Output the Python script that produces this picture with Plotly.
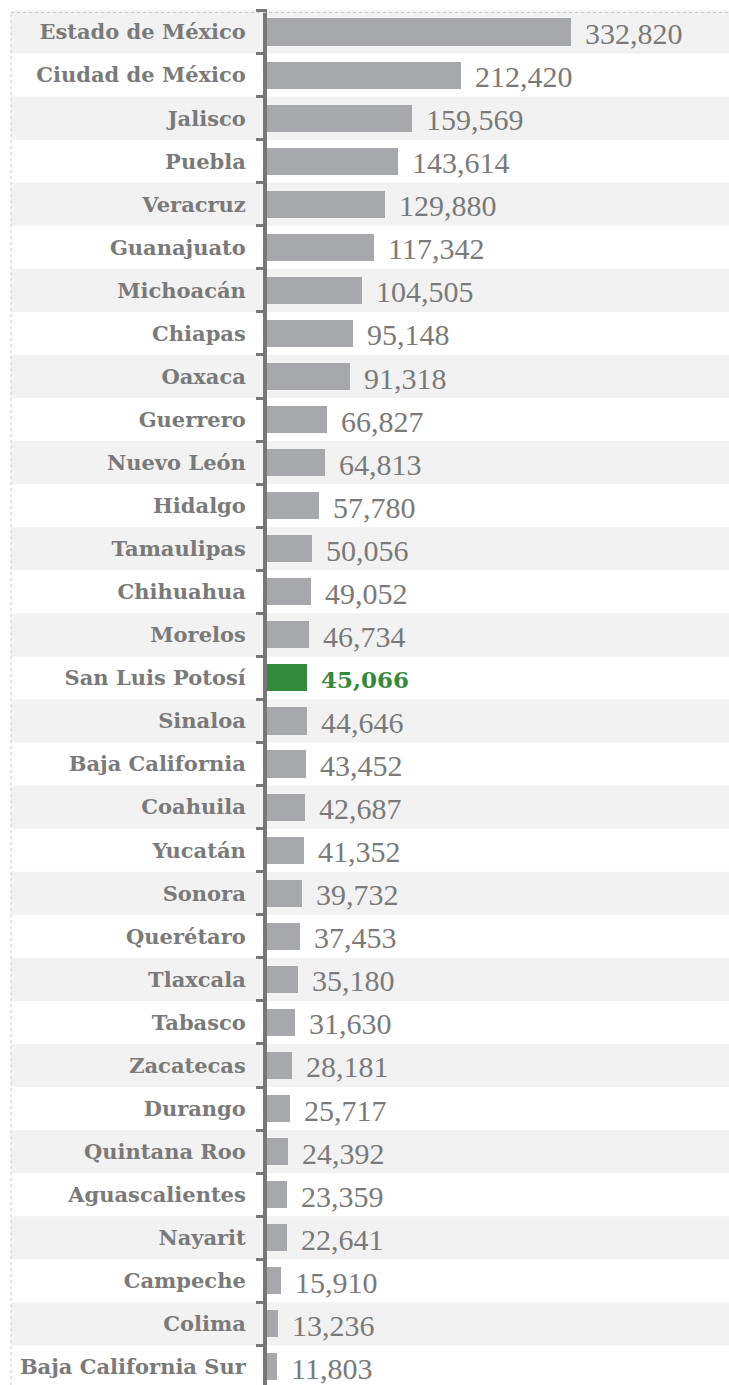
import plotly.graph_objects as go

states = ["Estado de México", "Ciudad de México", "Jalisco", "Puebla", "Veracruz",
          "Guanajuato", "Michoacán", "Chiapas", "Oaxaca", "Guerrero", "Nuevo León",
          "Hidalgo", "Tamaulipas", "Chihuahua", "Morelos", "San Luis Potosí", "Sinaloa",
          "Baja California", "Coahuila", "Yucatán", "Sonora", "Querétaro", "Tlaxcala",
          "Tabasco", "Zacatecas", "Durango", "Quintana Roo", "Aguascalientes", "Nayarit",
          "Campeche", "Colima", "Baja California Sur"]
values = [332820, 212420, 159569, 143614, 129880, 117342, 104505, 95148, 91318, 66827,
          64813, 57780, 50056, 49052, 46734, 45066, 44646, 43452, 42687, 41352, 39732,
          37453, 35180, 31630, 28181, 25717, 24392, 23359, 22641, 15910, 13236, 11803]
highlight = "San Luis Potosí"

GRAY = "#a7a8ab"
GREEN = "#338a3a"
TXT = "#7a7a7a"

W, H = 729, 1385
ML, MT = 11, 9
plot_w = W - ML
plot_h = H - MT
zero_px = 266 - ML          # pixel offset of zero inside plot
units_per_px = 332820 / (571 - 266)
x_range = [-zero_px * units_per_px, (plot_w - zero_px) * units_per_px]
row_px = 43.06
y_top = -0.5 - 1.5 / row_px
y_bot = y_top + plot_h / row_px

colors = [GREEN if s == highlight else GRAY for s in states]

fig = go.Figure(go.Bar(
    x=values, y=states, orientation="h", marker=dict(color=colors, line=dict(width=0)),
    width=0.63, hoverinfo="x+y"))

shapes = []
for i, s in enumerate(states):
    if i % 2 == 0:
        shapes.append(dict(type="rect", xref="paper", x0=0, x1=1, yref="y",
                           y0=i - 0.5, y1=i + 0.5, fillcolor="#f2f2f2",
                           line=dict(width=0), layer="below"))
top_paper = 1 - (12.5 - MT) / plot_h
shapes.append(dict(type="line", xref="paper", yref="paper", x0=0, x1=1,
                   y0=top_paper, y1=top_paper, line=dict(color="#c8c8c8", width=1, dash="dot")))
shapes.append(dict(type="line", xref="paper", yref="paper", x0=0, x1=0,
                   y0=0, y1=top_paper, line=dict(color="#c8c8c8", width=1, dash="dot")))

annotations = []
for s, v in zip(states, values):
    hl = s == highlight
    annotations.append(dict(
        x=v, y=s, xref="x", yref="y", text=f"{v:,}", showarrow=False,
        xanchor="left", yanchor="middle", xshift=12, yshift=-1.5 if not hl else -2,
        font=dict(family="DejaVu Serif" if hl else "Liberation Serif",
                  size=23 if hl else 30, color=GREEN if hl else TXT,
                  weight="bold" if hl else "normal")))

fig.update_layout(
    width=W, height=H, margin=dict(l=ML, r=0, t=MT, b=0),
    paper_bgcolor="white", plot_bgcolor="rgba(0,0,0,0)",
    showlegend=False, shapes=shapes, annotations=annotations, bargap=0,
    xaxis=dict(range=x_range, visible=False, fixedrange=True),
    yaxis=dict(type="category", categoryorder="array", categoryarray=states,
               range=[y_bot, y_top], anchor="free", position=(265 - ML) / plot_w,
               showline=True, linecolor="#777777", linewidth=4,
               ticks="outside", tickson="boundaries", ticklen=7, tickwidth=3,
               tickcolor="#777777", showgrid=False, zeroline=False,
               ticklabelstandoff=13, fixedrange=True,
               tickfont=dict(family="DejaVu Serif", size=21, color=TXT, weight="bold")),
)

fig.write_html("out.html", config={"displayModeBar": False},
               post_script="document.body.style.margin='0';")
